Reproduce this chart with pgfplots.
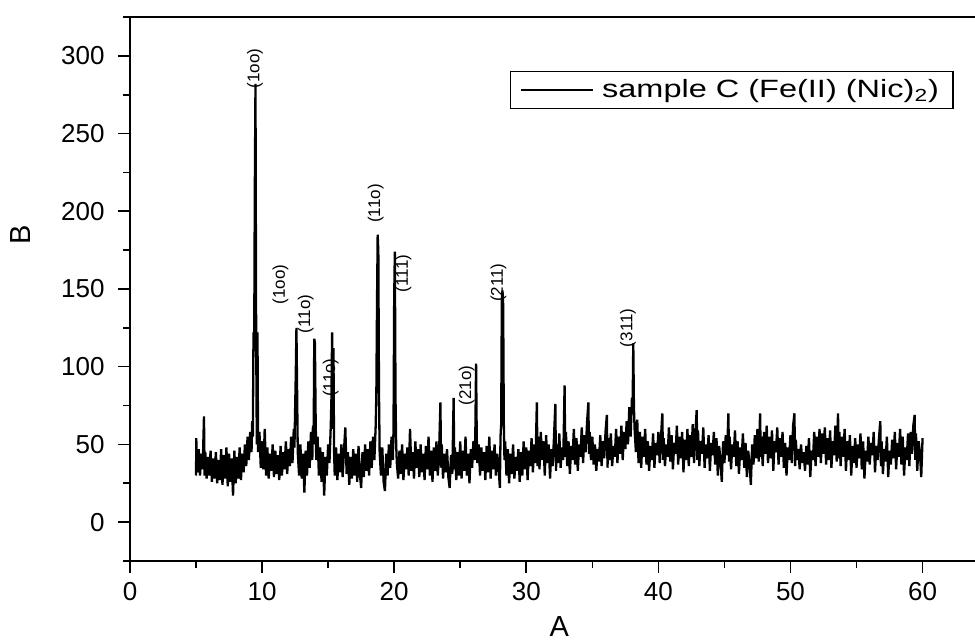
\documentclass[border=0pt]{standalone}
\usepackage{fontspec}
\setmainfont{Liberation Sans}
\newfontfamily\legfont{Liberation Sans}[FakeStretch=1.3]
\usepackage{pgfplots}
\pgfplotsset{compat=1.18}

\begin{document}
\begin{tikzpicture}
\begin{axis}[
    name=ax,
    scale only axis,
    width=429.3pt, height=272pt,
    xmin=0, xmax=65, ymin=-25, ymax=325,
    xtick={0,10,...,60}, minor xtick={5,15,...,65},
    ytick={0,50,...,300}, minor ytick={-25,25,...,325},
    tick pos=left, tick align=outside,
    major tick length=6pt, minor tick length=3.5pt,
    every tick/.style={black, line width=0.8pt},
    axis line style={line width=0.8pt},
    /pgf/number format/assume math mode=true,
    tick label style={font=\fontsize{13}{15}\selectfont, inner sep=0pt},
    yticklabel style={anchor=east, xshift=-6.5pt},
    xticklabel style={anchor=north, yshift=-4.5pt},
    xlabel={A}, ylabel={B},
    label style={font=\fontsize{14.5}{17}\selectfont, inner sep=0pt},
    xlabel style={at={(axis description cs:0.5,0)}, anchor=north, yshift=-27.5pt},
    ylabel style={at={(axis description cs:0,0.599)}, anchor=center, yshift=54.5pt},
    legend style={at={(rel axis cs:0.4425,0.9007)}, anchor=north west,
        draw=black, line width=0.6pt, inner xsep=5pt, inner ysep=2pt, column sep=2pt},
    legend image code/.code={\draw[line width=0.8pt] (0pt,0pt) -- (36pt,0pt);},
]
\addplot[black, line width=1.15pt] coordinates {
(5.0,30)(5.02,54)(5.05,35)(5.1,32)(5.2,47)(5.3,30)(5.4,44)(5.5,34)(5.6,68)(5.65,30)(5.7,45)(5.8,28)(5.9,42)
(6.0,30)(6.1,46)(6.2,26)(6.3,41)(6.4,28)(6.5,45)(6.6,25)(6.7,40)(6.8,27)(6.9,47)
(7.0,24)(7.1,43)(7.2,28)(7.3,48)(7.4,23)(7.5,44)(7.6,26)(7.7,41)(7.8,17)(7.9,46)
(8.0,25)(8.1,42)(8.2,28)(8.3,48)(8.4,27)(8.5,44)(8.6,32)(8.7,50)(8.8,36)(8.9,55)
(9.0,40)(9.1,58)(9.2,45)(9.25,65)(9.3,55)(9.35,122)(9.4,110)(9.45,215)(9.5,282)(9.52,215)(9.55,122)(9.6,50)(9.65,122)(9.7,45)(9.8,58)(9.9,35)
(10.0,52)(10.1,34)(10.2,60)(10.3,30)(10.4,48)(10.5,28)(10.6,44)(10.7,33)(10.8,50)(10.9,29)
(11.0,46)(11.1,31)(11.2,43)(11.3,27)(11.4,49)(11.5,30)(11.6,45)(11.7,34)(11.8,52)(11.9,31)
(12.0,47)(12.1,36)(12.2,55)(12.3,38)(12.4,60)(12.45,48)(12.5,72)(12.55,95)(12.6,125)(12.65,85)(12.7,45)(12.8,30)(12.9,50)
(13.0,28)(13.1,44)(13.2,19)(13.3,46)(13.4,30)(13.5,52)(13.6,35)(13.7,58)(13.8,40)(13.85,62)(13.9,50)(13.95,118)(14.0,115)(14.05,70)(14.1,40)
(14.2,55)(14.3,30)(14.4,48)(14.5,26)(14.6,45)(14.7,17)(14.8,42)(14.9,30)(15.0,50)(15.1,38)(15.2,62)(15.25,80)(15.3,122)(15.35,60)(15.4,112)(15.45,45)
(15.5,30)(15.6,48)(15.7,27)(15.8,44)(15.9,32)(16.0,50)(16.1,29)(16.2,46)(16.3,61)(16.4,31)(16.5,45)(16.6,24)(16.7,42)(16.8,28)(16.9,47)
(17.0,30)(17.1,44)(17.2,26)(17.3,49)(17.4,31)(17.5,22)(17.6,45)(17.7,29)(17.8,50)(17.9,33)
(18.0,47)(18.1,30)(18.2,52)(18.3,35)(18.4,55)(18.5,40)(18.6,62)(18.65,83)(18.7,140)(18.75,185)(18.8,174)(18.85,83)(18.9,45)
(19.0,30)(19.1,48)(19.2,26)(19.3,20)(19.4,44)(19.5,30)(19.6,50)(19.7,35)(19.8,55)(19.9,40)
(19.95,60)(20.0,144)(20.05,174)(20.1,80)(20.15,50)(20.2,38)
(20.3,28)(20.4,46)(20.5,31)(20.6,50)(20.7,27)(20.8,44)(20.9,34)
(21.0,48)(21.1,30)(21.2,60)(21.3,33)(21.4,45)(21.5,28)(21.6,52)(21.7,35)(21.8,47)(21.9,29)
(22.0,50)(22.1,32)(22.2,44)(22.3,27)(22.4,49)(22.5,34)(22.6,55)(22.7,30)(22.8,46)(22.9,26)
(23.0,48)(23.1,33)(23.2,52)(23.3,30)(23.4,45)(23.5,77)(23.55,35)(23.6,50)(23.7,28)(23.8,44)(23.9,32)
(24.0,47)(24.1,29)(24.2,22)(24.3,43)(24.4,31)(24.5,80)(24.55,34)(24.6,48)(24.7,27)(24.8,45)(24.9,30)
(25.0,52)(25.1,28)(25.2,46)(25.3,33)(25.4,55)(25.5,30)(25.6,44)(25.7,25)(25.8,47)(25.9,35)
(26.0,52)(26.1,40)(26.15,62)(26.2,102)(26.25,55)(26.3,38)(26.4,50)(26.5,30)(26.6,48)(26.7,33)(26.8,45)(26.9,27)
(27.0,49)(27.1,32)(27.2,55)(27.3,28)(27.4,46)(27.5,34)(27.6,50)(27.7,30)(27.8,44)(27.9,36)
(28.0,22)(28.05,55)(28.1,63)(28.15,143)(28.2,149)(28.25,140)(28.3,63)(28.35,40)
(28.4,52)(28.5,30)(28.6,47)(28.7,25)(28.8,44)(28.9,31)
(29.0,50)(29.1,28)(29.2,42)(29.3,33)(29.4,47)(29.5,26)(29.6,45)(29.7,30)(29.8,52)(29.9,34)
(30.0,48)(30.1,27)(30.2,46)(30.3,36)(30.4,54)(30.5,32)(30.6,50)(30.7,38)(30.8,77)(30.85,36)(30.9,55)
(31.0,34)(31.1,58)(31.2,40)(31.3,52)(31.4,30)(31.5,56)(31.6,38)(31.7,50)(31.8,28)(31.9,47)
(32.0,36)(32.1,55)(32.2,76)(32.25,33)(32.3,50)(32.4,38)(32.5,57)(32.6,35)(32.7,48)(32.8,40)(32.9,88)(32.95,42)
(33.0,58)(33.1,36)(33.2,52)(33.3,31)(33.4,49)(33.5,40)(33.6,60)(33.7,37)(33.8,54)(33.9,33)
(34.0,50)(34.1,42)(34.2,61)(34.3,38)(34.4,56)(34.5,45)(34.6,64)(34.7,77)(34.75,44)(34.8,58)(34.9,40)
(35.0,55)(35.1,37)(35.2,50)(35.3,33)(35.4,47)(35.5,39)(35.6,56)(35.7,36)(35.8,52)(35.9,41)
(36.0,58)(36.1,69)(36.15,35)(36.2,54)(36.3,40)(36.4,57)(36.5,36)(36.6,49)(36.7,42)(36.8,60)(36.9,38)
(37.0,55)(37.1,44)(37.2,62)(37.3,40)(37.4,58)(37.5,47)(37.6,65)(37.7,50)(37.8,74)(37.9,55)
(38.0,80)(38.05,74)(38.1,115)(38.15,74)(38.2,60)(38.3,45)(38.4,66)
(38.5,38)(38.6,58)(38.7,35)(38.8,55)(38.9,42)
(39.0,60)(39.1,37)(39.2,52)(39.3,33)(39.4,49)(39.5,40)(39.6,57)(39.7,35)(39.8,51)(39.9,43)
(40.0,58)(40.1,38)(40.2,55)(40.3,70)(40.35,40)(40.4,54)(40.5,36)(40.6,50)(40.7,42)(40.8,61)(40.9,39)
(41.0,56)(41.1,34)(41.2,51)(41.3,44)(41.4,62)(41.5,37)(41.6,55)(41.7,41)(41.8,58)(41.9,32)
(42.0,53)(42.1,40)(42.2,60)(42.3,36)(42.4,56)(42.5,42)(42.6,63)(42.7,38)(42.8,57)(42.9,72)(42.95,40)
(43.0,59)(43.1,36)(43.2,52)(43.3,44)(43.4,61)(43.5,35)(43.6,50)(43.7,41)(43.8,56)(43.9,33)
(44.0,51)(44.1,43)(44.2,58)(44.3,37)(44.4,54)(44.5,30)(44.6,49)(44.7,40)(44.8,26)(44.9,52)
(45.0,38)(45.1,56)(45.2,43)(45.3,70)(45.35,39)(45.4,55)(45.5,34)(45.6,50)(45.7,42)(45.8,59)(45.9,36)
(46.0,52)(46.1,31)(46.2,48)(46.3,40)(46.4,57)(46.5,35)(46.6,51)(46.7,29)(46.8,46)(46.9,38)
(47.0,24)(47.1,50)(47.2,37)(47.3,56)(47.4,41)(47.5,60)(47.6,39)(47.7,70)(47.75,42)(47.8,55)(47.9,36)
(48.0,58)(48.1,44)(48.2,62)(48.3,38)(48.4,55)(48.5,41)(48.6,59)(48.7,33)(48.8,52)(48.9,45)
(49.0,61)(49.1,37)(49.2,54)(49.3,42)(49.4,58)(49.5,35)(49.6,51)(49.7,30)(49.8,48)(49.9,40)
(50.0,56)(50.1,38)(50.2,62)(50.3,70)(50.35,36)(50.4,53)(50.5,40)(50.6,47)(50.7,34)(50.8,50)(50.9,38)
(51.0,45)(51.1,33)(51.2,49)(51.3,37)(51.4,54)(51.5,29)(51.6,46)(51.7,40)(51.8,58)(51.9,36)
(52.0,55)(52.1,42)(52.2,60)(52.3,38)(52.4,57)(52.5,44)(52.6,61)(52.7,37)(52.8,54)(52.9,40)
(53.0,59)(53.1,35)(53.2,52)(53.3,43)(53.4,62)(53.5,39)(53.6,70)(53.65,41)(53.7,58)(53.8,36)(53.9,55)
(54.0,42)(54.1,60)(54.2,33)(54.3,52)(54.4,40)(54.5,56)(54.6,30)(54.7,49)(54.8,38)(54.9,54)
(55.0,35)(55.1,50)(55.2,41)(55.3,57)(55.4,34)(55.5,52)(55.6,28)(55.7,46)(55.8,39)(55.9,55)
(56.0,37)(56.1,51)(56.2,43)(56.3,58)(56.4,32)(56.5,49)(56.6,40)(56.7,54)(56.8,65)(56.85,36)(56.9,52)
(57.0,31)(57.1,47)(57.2,39)(57.3,55)(57.4,29)(57.5,46)(57.6,37)(57.7,53)(57.8,41)(57.9,58)
(58.0,34)(58.1,51)(58.2,42)(58.3,60)(58.4,37)(58.5,55)(58.6,30)(58.7,48)(58.8,40)(58.9,57)
(59.0,36)(59.1,58)(59.2,44)(59.3,62)(59.4,69)(59.45,40)(59.5,57)(59.6,33)(59.7,52)(59.8,45)(59.9,29)(60.0,54)
};
\addlegendentry{\legfont\fontsize{12.5}{14}\selectfont sample C (Fe(II) (Nic)\textsubscript{2})}

% peak labels
\begin{scope}[every node/.style={rotate=90, font=\fontsize{8.5}{10}\selectfont, inner sep=0pt}]
\node at (axis cs:9.46,292) {(1oo)};
\node at (axis cs:11.4,153) {(1oo)};
\node at (axis cs:13.3,134) {(11o)};
\node at (axis cs:15.2,93) {(11o)};
\node at (axis cs:18.6,205) {(11o)};
\node at (axis cs:20.7,160) {(111)};
\node at (axis cs:25.5,88) {(21o)};
\node at (axis cs:27.9,154) {(211)};
\node at (axis cs:37.7,125) {(311)};
\end{scope}
\end{axis}
\pgfresetboundingbox
\path[use as bounding box] ([xshift=-65pt,yshift=-41pt]ax.south west) rectangle ([xshift=422.5pt,yshift=8.5pt]ax.north west);
\end{tikzpicture}
\end{document}
